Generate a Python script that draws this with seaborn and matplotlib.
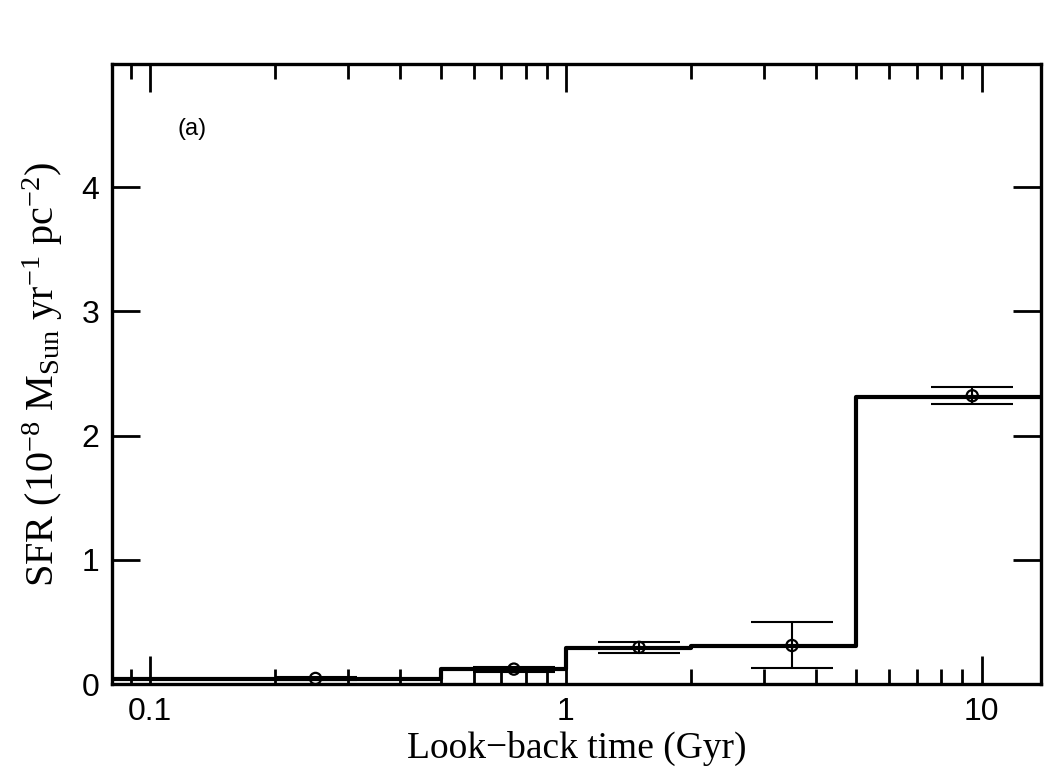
import numpy as np
import pandas as pd
import matplotlib
matplotlib.use("Agg")
import matplotlib.pyplot as plt
import seaborn as sns
from matplotlib.ticker import LogLocator, FixedLocator, FixedFormatter, NullFormatter

# bin edges (Gyr) and SFR in each bin
bin_edges = [0.08, 0.5, 1.0, 2.0, 5.0, 14.0]
bin_sfr = [0.04, 0.12, 0.29, 0.31, 2.31]

# data points with error bars
pt_age = [0.25, 0.75, 1.5, 3.5, 9.5]
pt_sfr = [0.045, 0.12, 0.295, 0.31, 2.32]
pt_err_lo = [0.01, 0.02, 0.045, 0.18, 0.07]
pt_err_hi = [0.01, 0.02, 0.045, 0.19, 0.07]

x_ticks = [0.1, 1, 10]
x_tick_labels = ["0.1", "1", "10"]
y_ticks = [0, 1, 2, 3, 4]

sns.set_style("ticks")
plt.rcParams["font.family"] = ["Liberation Sans", "DejaVu Sans"]
plt.rcParams["mathtext.fontset"] = "custom"
plt.rcParams["mathtext.rm"] = "Liberation Serif"
plt.rcParams["mathtext.it"] = "Liberation Serif:italic"

fig = plt.figure(figsize=(10.5, 7.73), dpi=100)
ax = fig.add_axes([0.1067, 0.1151, 0.8847, 0.8021])

step_df = pd.DataFrame({"age": bin_edges, "sfr": bin_sfr + [bin_sfr[-1]]})
sns.lineplot(data=step_df, x="age", y="sfr", drawstyle="steps-post",
             color="black", linewidth=3.0, ax=ax, sort=False)

ax.errorbar(pt_age, pt_sfr, yerr=[pt_err_lo, pt_err_hi], fmt="none",
            ecolor="black", elinewidth=1.5, capsize=29.5, capthick=1.5, zorder=4)
sns.scatterplot(x=pt_age, y=pt_sfr, marker="o", s=65, facecolor="none",
                edgecolor="black", linewidth=1.6, ax=ax, zorder=5)
sns.scatterplot(x=pt_age, y=pt_sfr, marker="o", s=8, color="black",
                linewidth=0, ax=ax, zorder=6)

ax.set_xscale("log")
ax.set_xlim(0.081, 13.9)
ax.set_ylim(0, 4.99)

ax.xaxis.set_major_locator(FixedLocator(x_ticks))
ax.xaxis.set_major_formatter(FixedFormatter(x_tick_labels))
ax.xaxis.set_minor_locator(LogLocator(base=10, subs=np.arange(2, 10)))
ax.xaxis.set_minor_formatter(NullFormatter())
ax.set_yticks(y_ticks)
ax.set_yticklabels([str(v) for v in y_ticks])

ax.tick_params(which="both", direction="in", top=True, right=True,
               labelsize=23, width=2, color="black", labelcolor="black", pad=9)
ax.tick_params(which="major", length=20)
ax.tick_params(which="minor", length=11)

for s in ax.spines.values():
    s.set_linewidth(2.4)
    s.set_color("black")

ax.set_xlabel("Look\u2212back time (Gyr)", family="Liberation Serif", fontsize=27,
              color="black", labelpad=3)
ax.set_ylabel(r"SFR (10$^{-8}$ M$_{\mathrm{Sun}}$ yr$^{-1}$ pc$^{-2}$)",
              family="Liberation Serif", fontsize=29, color="black", labelpad=12)

ax.text(0.071, 0.895, "(a)", transform=ax.transAxes, fontsize=17,
        ha="left", va="center", color="black")

fig.savefig("out.png", dpi=100)
